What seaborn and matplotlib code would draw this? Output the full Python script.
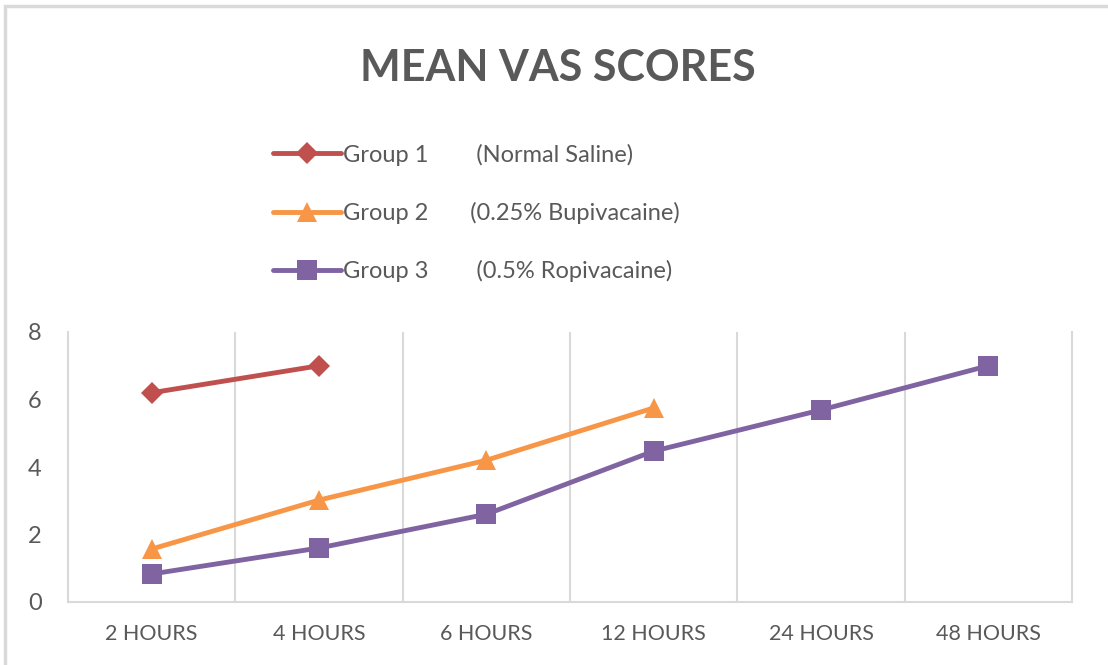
import numpy as np
import pandas as pd
import matplotlib.pyplot as plt
import seaborn as sns
from matplotlib.patches import Rectangle

times = ['2 HOURS', '4 HOURS', '6 HOURS', '12 HOURS', '24 HOURS', '48 HOURS']
group1 = [6.2, 7.0]
group2 = [1.57, 3.02, 4.2, 5.75]
group3 = [0.83, 1.6, 2.6, 4.47, 5.69, 7.0]
labels = ['Group 1        (Normal Saline)',
          'Group 2       (0.25% Bupivacaine)',
          'Group 3        (0.5% Ropivacaine)']
colors = ['#C0504D', '#F79646', '#8064A2']

sns.set_style('white')
plt.rcParams['font.family'] = ['Lato', 'DejaVu Sans']
grey = '#595959'

fig = plt.figure(figsize=(11.08, 6.65), dpi=100)
ax = fig.add_axes([68 / 1108, 1 - 602 / 665, (1072 - 68) / 1108, (602 - 332) / 665])

series = [group1, group2, group3]
markers = ['D', '^', 's']
msizes = [11, 15, 15]
for vals, lab, col, mk, ms in zip(series, labels, colors, markers, msizes):
    df = pd.DataFrame({'pos': np.arange(len(vals)), 'vas': vals})
    sns.lineplot(data=df, x='pos', y='vas', ax=ax, color=col, marker=mk,
                 markersize=ms, markeredgewidth=0, linewidth=3.5, label=lab)

ax.set_xlim(-0.5, 5.5)
ax.set_ylim(0, 8)
ax.set_yticks([0, 2, 4, 6, 8])
ax.set_xticks(range(len(times)))
ax.set_xticklabels(times)
ax.set_xticks(np.arange(0.5, 5, 1), minor=True)
ax.grid(which='minor', axis='x', color='#d9d9d9', lw=1.5)
ax.grid(which='major', visible=False)
ax.tick_params(which='both', length=0)
ax.tick_params(axis='y', labelsize=17, labelcolor=grey, pad=19)
ax.tick_params(axis='x', labelsize=15.5, labelcolor=grey, pad=16)
ax.set_xlabel('')
ax.set_ylabel('')
for s in ['left', 'right', 'bottom']:
    ax.spines[s].set_color('#d9d9d9')
    ax.spines[s].set_linewidth(1.5)
ax.spines['top'].set_visible(False)

h, l = ax.get_legend_handles_labels()
ax.get_legend().remove()
fig.legend(h, l, loc='center left', bbox_to_anchor=(0.2275, 0.68),
           bbox_transform=fig.transFigure, frameon=False, fontsize=17,
           labelcolor=grey, handlelength=2.85, handletextpad=0.1,
           labelspacing=1.53)

fig.text(0.5036, 0.898, 'MEAN VAS SCORES', ha='center', va='center',
         fontsize=31, fontweight='bold', color=grey)

# chart frame, only top and left edges fall inside the picture
fig.patches.append(Rectangle((5 / 1108, -0.1), 1.2, 1.1 - 6 / 665,
                             transform=fig.transFigure, fill=False,
                             edgecolor='#d9d9d9', lw=2.5))

fig.savefig('out.png', dpi=100)
